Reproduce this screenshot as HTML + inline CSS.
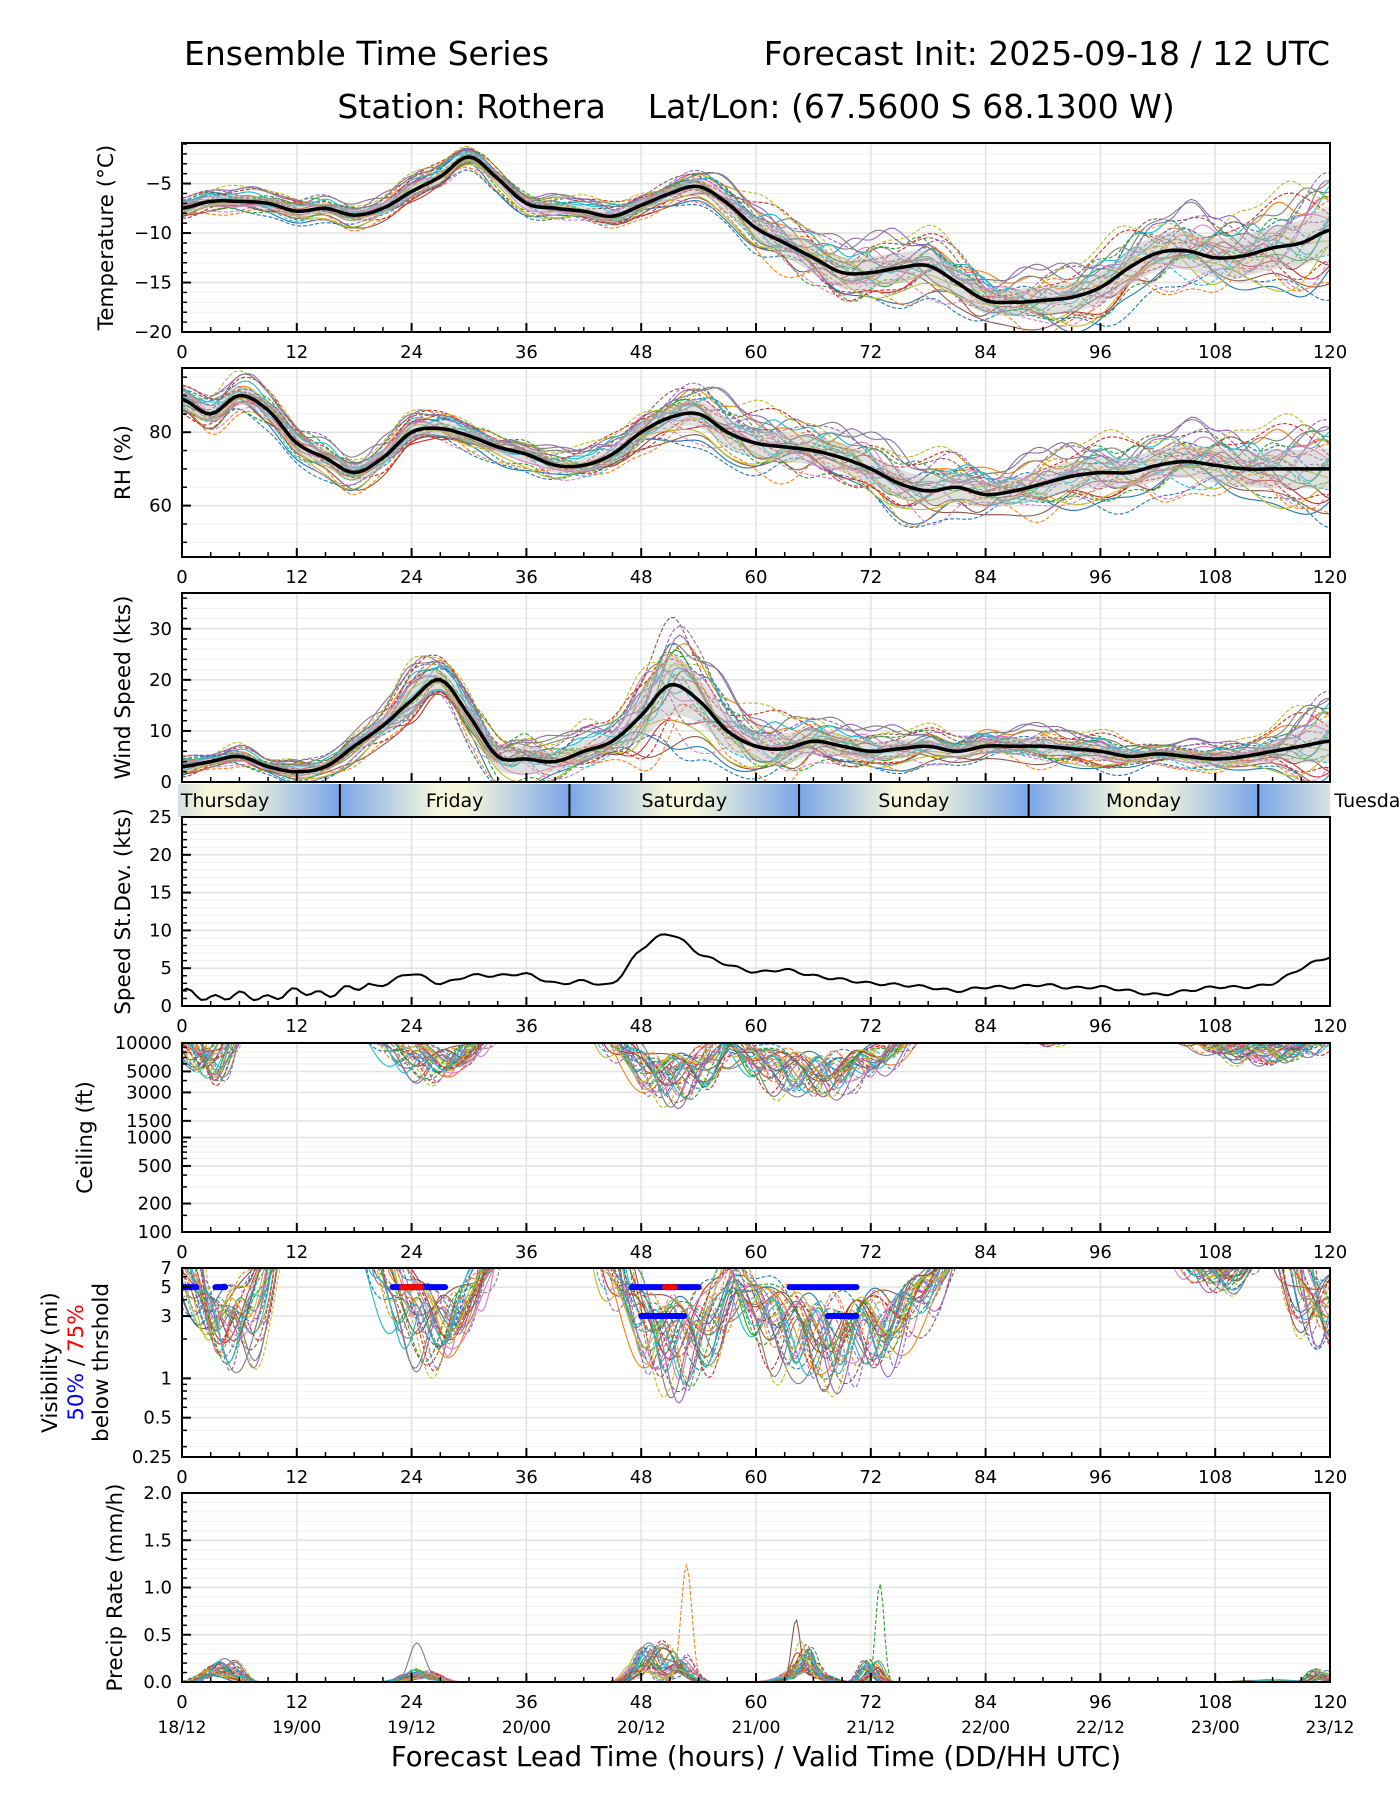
<!DOCTYPE html>
<html><head><meta charset="utf-8">
<style>
body{margin:0;background:#fff;}
svg{display:block;font-family:"DejaVu Sans","Liberation Sans",sans-serif;}
</style></head>
<body>
<svg id="chart" width="1400" height="1800" viewBox="0 0 1400 1800" xmlns="http://www.w3.org/2000/svg">
<rect width="1400" height="1800" fill="#fff"/>
<text x="184" y="65" font-size="33">Ensemble Time Series</text>
<text x="1330" y="65" font-size="33" text-anchor="end">Forecast Init: 2025-09-18 / 12 UTC</text>
<text x="756" y="118" font-size="33" text-anchor="middle" xml:space="preserve" style="white-space:pre">Station: Rothera    Lat/Lon: (67.5600 S 68.1300 W)</text>
<text x="756" y="1766" font-size="27.5" text-anchor="middle">Forecast Lead Time (hours) / Valid Time (DD/HH UTC)</text>
</svg>
<script>
// ---------- data ----------
const hours=[0,3,6,9,12,15,18,21,24,27,30,33,36,39,42,45,48,51,54,57,60,63,66,69,72,75,78,81,84,87,90,93,96,99,102,105,108,111,114,117,120];
const tempMean=[-7.5,-6.8,-6.8,-7,-7.8,-7.5,-8.2,-7.5,-5.8,-4.3,-2.3,-4.5,-7,-7.5,-7.8,-8.3,-7.2,-6,-5.3,-7,-9.5,-11,-12.5,-14,-14,-13.5,-13.3,-15,-16.8,-17,-16.8,-16.5,-15.5,-13.5,-12,-11.8,-12.5,-12.3,-11.5,-11,-9.7];
const tempSpread=[0.8,0.7,0.7,0.7,0.8,0.7,0.8,0.8,0.8,0.8,0.7,0.8,0.7,0.7,0.7,0.8,0.8,0.8,0.9,1.2,1.5,1.7,1.9,2,2,1.9,1.8,1.8,1.7,1.7,1.8,1.9,2,2.2,2.3,2.4,2.5,2.6,2.7,2.9,3.1];
const rhMean=[89,85,90,86,77,73,69,73,80,81,79,76,74,71,71,74,80,84,85,80,77,76,75,73,70,66,64,65,63,64,66,68,69,69,71,72,71,70,70,70,70];
const rhSpread=[3,3,3,3,3,3,3,3,2.5,2.5,2.5,2.5,2.5,2.5,2.5,3,3.5,4,4.5,5,5,5,5,5,5,5,5,5,4.5,4.5,5,5,5,5,5.5,5.5,6,6,6.5,6.5,7];
const windMean=[3,4,5,3,2,3,7,11,16,20,13,5,4.5,4,6,8,13,19,16,10,7,6.5,8,7,6,6.5,7,6,7,7,7,6.5,6,5,5.5,5,4.5,5,6,7,8];
const speedStd=[2,1,1.5,1,2,1.5,2.5,2.8,4.3,3,4,4,4.2,3,3.3,3,7.5,9.5,7,5.5,4.5,4.8,4,3.5,3,2.8,2.5,2,2.5,2.5,2.8,2.4,2.5,2,1.5,2,2.5,2.5,3,5,6.5];
// ceiling events: start hour, end hour, lowest ceiling (ft)
const ceilStart=[0,21,45,56,88,104];
const ceilEnd=[5,32,57,76,93,121];
const ceilFloor=[3000,3500,1900,2300,9000,5500];
// visibility events: start, end, lowest visibility (mi)
const visStart=[0,21,45,56,105,116];
const visEnd=[9,32,58,80,112,122];
const visFloor=[0.9,1.0,0.6,0.7,4.2,1.2];
// precip events: start, end, peak (mm/h)
const prStart=[0,21,45,49,60,63,70,107,117];
const prEnd=[8,29,52,55,70,67,74,120,121];
const prPeak=[0.55,0.6,0.92,1.27,0.3,1.18,1.05,0.05,0.3];
// visibility threshold markers (50% blue, 75% red)
const thrBlueStart=[0,3.5,22,47,63.5,48,67.5];
const thrBlueEnd=[1.5,4.5,27.5,54,70.5,52.5,70.5];
const thrBlueVal=[5,5,5,5,5,3,3];
const thrRedStart=[23,50.5];
const thrRedEnd=[25,51.5];
const thrRedVal=[5,5];
const xTickHours=[0,12,24,36,48,60,72,84,96,108,120];
const xTickDates=["18/12","19/00","19/12","20/00","20/12","21/00","21/12","22/00","22/12","23/00","23/12"];
const dayNames=["Thursday","Friday","Saturday","Sunday","Monday","Tuesday"];
// ensemble member perturbation parameters
const memOff=[-1.2,0.8,0.1,-0.5,1.4,-0.9,0.4,1.0,-0.2,0.6,-1.5,0.3,-0.7,1.2,-0.1,0.9,-1.0,0.2,1.6,-0.4,0.5,-1.3,0.7,-0.6,1.1,-0.3,0.0,1.3,-0.8,0.45];
const memFq=[0.31,0.22,0.45,0.27,0.38,0.19,0.52,0.25,0.41,0.33,0.29,0.47,0.21,0.36,0.43,0.24,0.5,0.28,0.35,0.4,0.23,0.44,0.3,0.26,0.48,0.34,0.2,0.39,0.32,0.46];
const memPh=[0.3,1.7,2.9,4.1,5.2,0.9,2.2,3.6,4.8,5.9,1.2,2.5,3.3,4.5,0.6,1.9,3.0,4.3,5.5,0.1,1.4,2.7,3.9,5.0,0.8,2.0,3.4,4.7,5.7,1.1];

// ---------- helpers ----------
const NS="http://www.w3.org/2000/svg";
const svg=document.getElementById('chart');
const X0=182,X1=1330;
const xs=h=>X0+h*(X1-X0)/120;
const colors=["#1f77b4","#ff7f0e","#2ca02c","#d62728","#9467bd","#8c564b","#e377c2","#7f7f7f","#bcbd22","#17becf"];
function el(tag,attrs,parent){const e=document.createElementNS(NS,tag);for(const k in attrs)e.setAttribute(k,attrs[k]);(parent||svg).appendChild(e);return e;}
function interp(arr,t){
  let i=Math.min(Math.floor(t/3),arr.length-2);if(i<0)i=0;
  const u=(t-hours[i])/3;
  const p0=arr[Math.max(i-1,0)],p1=arr[i],p2=arr[i+1],p3=arr[Math.min(i+2,arr.length-1)];
  return 0.5*((2*p1)+(-p0+p2)*u+(2*p0-5*p1+4*p2-p3)*u*u+(-p0+3*p1-3*p2+p3)*u*u*u);
}
function pathD(pts){return pts.map((p,i)=>(i?'L':'M')+p[0].toFixed(1)+','+p[1].toFixed(1)).join('');}
let clipId=0;
function panel(name,y0,y1,ymin,ymax,log,majors,minors,labels,ylabel,opts){
  opts=opts||{};
  const g=el('g',{});
  
  
  const ys=v=>{if(log){return y1-(Math.log(v)-Math.log(ymin))/(Math.log(ymax)-Math.log(ymin))*(y1-y0);}return y1-(v-ymin)/(ymax-ymin)*(y1-y0);};
  minors.forEach(v=>el('line',{x1:X0,x2:X1,y1:ys(v),y2:ys(v),stroke:'#f0f0f0','stroke-width':1},g));
  majors.forEach(v=>el('line',{x1:X0,x2:X1,y1:ys(v),y2:ys(v),stroke:'#e2e2e2','stroke-width':1.5},g));
  xTickHours.forEach(h=>el('line',{x1:xs(h),x2:xs(h),y1:y0,y2:y1,stroke:'#e2e2e2','stroke-width':1.5},g));
  const id='clip'+(clipId++);
  const cp=el('clipPath',{id:id},g);el('rect',{x:X0,y:y0,width:X1-X0,height:y1-y0},cp);
  const data=el('g',{'clip-path':'url(#'+id+')'},g);
  
  
  const fr=el('g',{},g);
  for(let h=0;h<=120;h+=3){const mj=h%12==0;el('line',{x1:xs(h),x2:xs(h),y1:y1,y2:y1-(mj?9:5),stroke:'#000','stroke-width':mj?2:1.5},fr);}
  majors.forEach(v=>el('line',{x1:X0,x2:X0+9,y1:ys(v),y2:ys(v),stroke:'#000','stroke-width':2},fr));
  minors.forEach(v=>el('line',{x1:X0,x2:X0+5,y1:ys(v),y2:ys(v),stroke:'#000','stroke-width':1.5},fr));
  el('rect',{x:X0,y:y0,width:X1-X0,height:y1-y0,fill:'none',stroke:'#000','stroke-width':2},fr);
  labels.forEach((l,i)=>{const t=el('text',{x:172,y:ys(majors[i])+6,'font-size':18,'text-anchor':'end'},fr);t.textContent=l;
    
    });
  if(!opts.noX){xTickHours.forEach((h,i)=>{const t=el('text',{x:xs(h),y:y1+26,'font-size':18,'text-anchor':'middle'},fr);t.textContent=h;
    
    
    if(opts.dates){const d=el('text',{x:xs(h),y:y1+51,'font-size':17,'text-anchor':'middle'},fr);d.textContent=xTickDates[i];
      
      }});}
  if(ylabel){const yl=(y0+y1)/2;ylabel.forEach((ln,k)=>{const t=el('text',{x:0,y:0,'font-size':21.5,'text-anchor':'middle',transform:'translate('+ln.x+','+yl+') rotate(-90)'},g);
    
    
    if(ln.parts){ln.parts.forEach(p=>{const ts=el('tspan',{fill:p.c},t);ts.textContent=p.s;});}else t.textContent=ln.s;});}
  return {ys,data};
}
function memberStyle(i){return {stroke:colors[i%10],'stroke-width':1.1,fill:'none','stroke-dasharray':(i>=10&&i<25)?'4,2':'none'};}
function ensemble(P,mean,spread,clampMin){
  for(let i=0;i<30;i++){
    const pts=[];
    for(let t=0;t<=120;t+=0.5){
      const s=interp(spread,t);
      let v=interp(mean,t)+s*(memOff[i]*0.9+0.7*Math.sin(t*memFq[i]+memPh[i])+0.25*Math.sin(t*memFq[(i+7)%30]*3+memPh[(i+3)%30]));
      if(clampMin!==undefined)v=Math.max(clampMin,v);
      pts.push([xs(t),P.ys(v)]);
    }
    const p=el('path',Object.assign({d:pathD(pts)},memberStyle(i)),P.data);
    
    
  }
  const up=[],lo=[],mid=[];
  for(let t=0;t<=120;t+=0.5){const m=interp(mean,t),s=interp(spread,t);up.push([xs(t),P.ys(m+s*0.8)]);lo.unshift([xs(t),P.ys(Math.max(clampMin===undefined?-99:clampMin,m-s*0.8))]);mid.push([xs(t),P.ys(m)]);}
  const band=el('path',{d:pathD(up.concat(lo))+'Z',fill:'#bbbbbb','fill-opacity':0.45,stroke:'none'},P.data);
  
  
  const ml=el('path',{d:pathD(mid),fill:'none',stroke:'#000','stroke-width':3.5},P.data);
  
  
}
function range(a,b,s){const r=[];for(let v=a;v<=b+1e-9;v+=s)r.push(+v.toFixed(3));return r;}
function hump(t,s,e){if(t<=s||t>=e)return 0;return Math.sin(Math.PI*(t-s)/(e-s));}

const P1=panel('temperature-panel',143,332,-20,-0.9,false,[-5,-10,-15,-20],range(-20,-1,1),['−5','−10','−15','−20'],[{x:113,s:'Temperature (°C)'}]);
ensemble(P1,tempMean,tempSpread);
const P2=panel('rh-panel',368,557,46,97.5,false,[60,80],range(50,95,5),['60','80'],[{x:130,s:'RH (%)'}]);
ensemble(P2,rhMean,rhSpread);
const P3=panel('wind-panel',593,782,0,37,false,[0,10,20,30],range(0,36,2),['0','10','20','30'],[{x:130,s:'Wind Speed (kts)'}],{noX:true});
ensemble(P3,windMean,speedStd.map(v=>v*0.8),0);

(function(){
  const g=el('g',{});
  
  
  const defs=el('defs',{},g);
  const lg=el('linearGradient',{id:'dayGrad',x1:0,x2:1,y1:0,y2:0},defs);
  [['0','#7aa6e8'],['0.42','#f6f7dc'],['0.55','#f6f7dc'],['1','#7aa6e8']].forEach(s=>el('stop',{offset:s[0],'stop-color':s[1]},lg));
  const cp=el('clipPath',{id:'dayClip'},defs);el('rect',{x:178,y:784,width:X1-178,height:33},cp);
  const inner=el('g',{'clip-path':'url(#dayClip)'},g);
  dayNames.forEach((d,k)=>{
    const s=-7.5+24*k;
    el('rect',{x:xs(s),y:784,width:xs(24)-xs(0),height:33,fill:'url(#dayGrad)'},inner);
    if(k>0)el('line',{x1:xs(s),x2:xs(s),y1:784,y2:817,stroke:'#000','stroke-width':2},g);
  });
  dayNames.forEach((d,k)=>{const t=el('text',{x:xs(4.5+24*k),y:807,'font-size':19,'text-anchor':'middle'},g);t.textContent=d;
    
    });
})();

const P4=panel('speed-stddev-panel',817,1006,0,25,false,[0,5,10,15,20,25],range(0,25,1),['0','5','10','15','20','25'],[{x:130,s:'Speed St.Dev. (kts)'}]);
(function(){const pts=[];for(let t=0;t<=120;t+=0.5){let v=interp(speedStd,t)+0.3*Math.sin(t*2.3)*(t<20?1.5:0.6);pts.push([xs(t),P4.ys(Math.max(0.3,v))]);}
  const p=el('path',{d:pathD(pts),fill:'none',stroke:'#000','stroke-width':2},P4.data);
  
  })();

function eventMembers(P,starts,ends,floors,top,kind){
  for(let i=0;i<30;i++){
    const pts=[];
    const amp=0.55+0.45*((memOff[i]+1.6)/3.2);
    for(let t=0;t<=120;t+=0.25){
      let v;
      if(kind==='precip'){
        v=0;
        starts.forEach((s,k)=>{const sh=memOff[(i+k)%30]*1.2;const h=hump(t,s+sh*0.5,ends[k]+sh*0.5);
          const f=(k===1||k===3||k===5||k===6)?(i===(k*7)%30?1:0.25*amp):amp*0.5;
          v+=prPeak[k]*f*Math.pow(h,(i===(k*7)%30)?8:3)*(0.7+0.3*Math.sin(t*memFq[i]*4+memPh[i]));});
        v=Math.max(0,v);
      }else{
        const base=Math.log(top)+0.35;let lv=base;
        starts.forEach((s,k)=>{const sh=memOff[(i+k)%30]*1.5;const h=hump(t,s+sh,ends[k]+sh*0.6);
          if(h>0){const a=amp*(0.75+0.25*Math.sin(t*memFq[i]*3+memPh[i]));const c=base-(base-Math.log(floors[k]))*a*Math.pow(h,0.6);lv=Math.min(lv,c);}});
        v=Math.exp(lv);
      }
      pts.push([xs(t),P.ys(v)]);
    }
    const p=el('path',Object.assign({d:pathD(pts)},memberStyle(i)),P.data);
    
    
  }
}
const P5=panel('ceiling-panel',1043,1232,100,10000,true,[10000,5000,3000,1500,1000,500,200,100],[150,300,400,600,700,800,900,2000,4000,6000,7000,8000,9000],['10000','5000','3000','1500','1000','500','200','100'],[{x:92,s:'Ceiling (ft)'}]);
eventMembers(P5,ceilStart,ceilEnd,ceilFloor,10000,'ceil');
const P6=panel('visibility-panel',1268,1457,0.25,7,true,[7,5,3,1,0.5,0.25],[0.3,0.4,0.6,0.7,0.8,0.9,2,4,6],['7','5','3','1','0.5','0.25'],[{x:57,s:'Visibility (mi)'},{x:83,parts:[{s:'50%',c:'#0000ff'},{s:' / ',c:'#000'},{s:'75%',c:'#ff0000'}]},{x:108,s:'below thrshold'}]);
eventMembers(P6,visStart,visEnd,visFloor,7,'vis');
thrBlueStart.forEach((s,k)=>{const l=el('line',{x1:xs(s),x2:xs(thrBlueEnd[k]),y1:P6.ys(thrBlueVal[k]),y2:P6.ys(thrBlueVal[k]),stroke:'#0000ff','stroke-width':6,'stroke-linecap':'round'},P6.data);
  
  });
thrRedStart.forEach((s,k)=>{const l=el('line',{x1:xs(s),x2:xs(thrRedEnd[k]),y1:P6.ys(thrRedVal[k]),y2:P6.ys(thrRedVal[k]),stroke:'#ff0000','stroke-width':6,'stroke-linecap':'round'},P6.data);
  
  });
const P7=panel('precip-panel',1493,1682,0,2,false,[0,0.5,1,1.5,2],range(0,2,0.1),['0.0','0.5','1.0','1.5','2.0'],[{x:122,s:'Precip Rate (mm/h)'}],{dates:true});
eventMembers(P7,prStart,prEnd,prPeak,2,'precip');
</script>
</body></html>
